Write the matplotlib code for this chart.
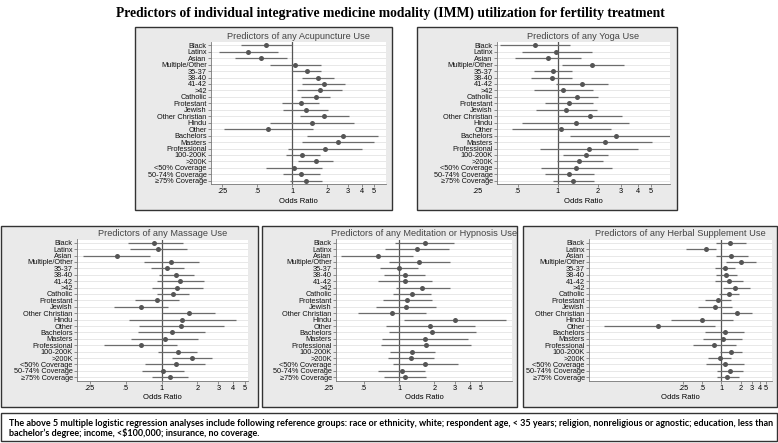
import matplotlib
matplotlib.use("Agg")
import matplotlib.pyplot as plt
from matplotlib.patches import Rectangle
import numpy as np

plt.rcParams['font.family'] = ['Liberation Sans', 'DejaVu Sans']

# row labels (same for every panel)
rows = ['Black', 'Latinx', 'Asian', 'Multiple/Other', '35-37', '38-40', '41-42', '>42',
        'Catholic', 'Protestant', 'Jewish', 'Other Christian', 'Hindu', 'Other',
        'Bachelors', 'Masters', 'Professional', '100-200K', '>200K',
        '<50% Coverage', '50-74% Coverage', '≥75% Coverage']

xticks = [0.25, 0.5, 1, 2, 3, 4, 5]
xticklabels = ['.25', '.5', '1', '2', '3', '4', '5']

# odds ratios and 95% CI
acu_or = [0.60, 0.42, 0.54, 1.05, 1.33, 1.67, 1.86, 1.72, 1.59, 1.18, 1.31, 1.89, 1.47, 0.62,
          2.74, 2.47, 1.91, 1.22, 1.59, 1.04, 1.20, 1.32]
acu_lo = [0.36, 0.235, 0.32, 0.64, 1.00, 1.22, 1.22, 1.10, 1.18, 0.82, 0.84, 1.17, 0.64, 0.26,
          1.35, 1.22, 0.91, 0.88, 1.13, 0.60, 0.83, 0.96]
acu_hi = [1.00, 0.76, 0.90, 1.75, 1.78, 2.28, 2.85, 2.68, 2.13, 1.70, 2.02, 3.08, 3.42, 1.51,
          5.50, 5.00, 3.97, 1.72, 2.22, 1.81, 1.73, 1.81]

yoga_or = [0.68, 0.98, 0.85, 1.82, 0.93, 0.90, 1.52, 1.10, 1.41, 1.22, 1.16, 1.75, 1.37, 1.06,
           2.75, 2.28, 1.72, 1.63, 1.46, 1.38, 1.22, 1.30]
yoga_lo = [0.37, 0.54, 0.48, 1.08, 0.67, 0.63, 0.97, 0.66, 1.01, 0.80, 0.69, 1.01, 0.54, 0.45,
           1.24, 1.01, 0.74, 1.10, 0.99, 0.75, 0.80, 0.92]
yoga_hi = [1.24, 1.80, 1.50, 3.15, 1.29, 1.29, 2.41, 1.83, 2.00, 1.86, 1.97, 3.03, 3.44, 2.52,
           7.00, 5.10, 4.05, 2.41, 2.18, 2.55, 1.87, 1.89]

mass_or = [0.87, 0.94, 0.42, 1.20, 1.12, 1.33, 1.43, 1.35, 1.24, 0.91, 0.67, 1.69, 1.48, 1.46,
           1.22, 1.07, 0.67, 1.38, 1.80, 1.32, 1.02, 1.18]
mass_lo = [0.52, 0.54, 0.22, 0.71, 0.82, 0.96, 0.91, 0.83, 0.91, 0.60, 0.40, 1.01, 0.53, 0.65,
           0.64, 0.56, 0.33, 0.94, 1.23, 0.73, 0.68, 0.84]
mass_hi = [1.51, 1.65, 0.80, 2.06, 1.54, 1.88, 2.27, 2.22, 1.71, 1.39, 1.14, 2.81, 4.20, 3.34,
           2.32, 2.04, 1.34, 2.00, 2.65, 2.33, 1.53, 1.67]

med_or = [1.67, 1.42, 0.66, 1.48, 1.00, 1.12, 1.12, 1.58, 1.28, 1.18, 1.15, 0.87, 3.01, 1.84,
          1.92, 1.65, 1.71, 1.30, 1.26, 1.67, 1.05, 1.13]
med_lo = [0.93, 0.76, 0.32, 0.82, 0.69, 0.75, 0.66, 0.94, 0.88, 0.73, 0.64, 0.45, 1.11, 0.78,
          0.82, 0.71, 0.70, 0.84, 0.81, 0.88, 0.66, 0.75]
med_hi = [2.97, 2.66, 1.32, 2.71, 1.45, 1.68, 1.93, 2.73, 1.89, 1.91, 2.06, 1.71, 8.20, 4.43,
          4.52, 3.87, 4.15, 2.01, 1.99, 3.17, 1.67, 1.69]

herb_or = [1.35, 0.56, 1.42, 2.00, 1.12, 1.19, 1.32, 1.65, 1.32, 0.89, 0.80, 1.73, 0.49, 0.10,
           1.12, 1.04, 0.77, 1.40, 0.94, 1.14, 1.37, 1.24]
herb_lo = [0.81, 0.27, 0.81, 1.17, 0.79, 0.81, 0.79, 1.04, 0.92, 0.55, 0.43, 1.01, 0.16, 0.0136,
           0.54, 0.51, 0.35, 0.95, 0.62, 0.57, 0.85, 0.84]
herb_hi = [2.43, 0.83, 2.58, 3.50, 1.61, 1.79, 2.20, 2.78, 1.90, 1.42, 1.49, 3.02, 1.51, 0.78,
           2.31, 2.15, 1.69, 2.10, 1.42, 2.29, 2.18, 1.86]

W, H = 778, 443
fig = plt.figure(figsize=(W / 100, H / 100), dpi=100)


def fig_rect(x0, y0, x1, y1):
    return [x0 / W, 1 - y1 / H, (x1 - x0) / W, (y1 - y0) / H]


def panel(box, area, xlim, title, ors, lo, hi):
    bx0, by0, bx1, by1 = box
    fig.patches.append(Rectangle((bx0 / W, 1 - by1 / H), (bx1 - bx0) / W, (by1 - by0) / H,
                                 transform=fig.transFigure, facecolor='#eaeaea',
                                 edgecolor='#333333', linewidth=1.0, zorder=-5))
    ax = fig.add_axes(fig_rect(*area))
    ax.set_zorder(2)
    ax.set_facecolor('white')
    y = np.arange(len(rows))
    for yy in y:
        ax.axhline(yy, color='#e4e4e4', lw=0.6, zorder=0)
    ax.axvline(1, color='#555555', lw=0.9, zorder=1)
    ax.hlines(y, lo, hi, color='#6c6c6c', lw=0.9, zorder=2)
    ax.plot(ors, y, 'o', color='#555555', ms=3.6, mec='none', zorder=3)
    ax.set_xscale('log')
    ax.set_xlim(*xlim)
    ax.set_ylim(len(rows) - 0.5, -0.5)
    ax.set_yticks(y)
    ax.set_yticklabels(rows, fontsize=5.3, color='#111111')
    inside = [t for t in xticks if xlim[0] <= t <= xlim[1]]
    ax.set_xticks(inside)
    ax.set_xticklabels([xticklabels[xticks.index(t)] for t in inside], fontsize=5.3)
    ax.xaxis.set_minor_locator(plt.NullLocator())
    # .25 label sits just left of the axis when the range starts above it
    for t in xticks:
        if t < xlim[0]:
            ax.annotate(xticklabels[xticks.index(t)], xy=(t, 0), xycoords=('data', 'axes fraction'),
                        xytext=(0, -3), textcoords='offset points', ha='center', va='top',
                        fontsize=5.3, annotation_clip=False)
    ax.tick_params(axis='both', length=2, width=0.5, color='#666666', pad=1)
    for s in ['top', 'right']:
        ax.spines[s].set_visible(False)
    for s in ['left', 'bottom']:
        ax.spines[s].set_color('#777777')
        ax.spines[s].set_linewidth(0.6)
    ax.set_xlabel('Odds Ratio', fontsize=5.5, labelpad=2)
    ax.set_title(title, fontsize=6.7, color='#444444', pad=2.5)
    return ax


panel((135, 27, 392, 210), (211, 42, 386, 184), (0.2, 6.4),
      'Predictors of any Acupuncture Use', acu_or, acu_lo, acu_hi)
panel((417, 27, 677, 210), (497, 42, 670, 184), (0.35, 7.0),
      'Predictors of any Yoga Use', yoga_or, yoga_lo, yoga_hi)
panel((1, 226, 258, 407), (77, 239.5, 248, 380.5), (0.196, 5.3),
      'Predictors of any Massage Use', mass_or, mass_lo, mass_hi)
panel((262, 226, 517, 407), (336, 239.5, 512, 380.5), (0.29, 9.2),
      'Predictors of any Meditation or Hypnosis Use', med_or, med_lo, med_hi)
panel((523, 226, 777, 407), (589, 239.5, 772, 380.5), (0.008, 6.3),
      'Predictors of any Herbal Supplement Use', herb_or, herb_lo, herb_hi)

fig.text(390 / W, 1 - 13 / H,
         'Predictors of individual integrative medicine modality (IMM) utilization for fertility treatment',
         ha='center', va='center', fontsize=9.8, fontweight='bold', family='Liberation Serif')

# footnote box
fig.patches.append(Rectangle((1 / W, 1 - 441 / H), 776 / W, 28 / H, transform=fig.transFigure,
                             facecolor='white', edgecolor='#333333', linewidth=1.0, zorder=-5))
fig.text(9 / W, 1 - 423 / H,
         'The above 5 multiple logistic regression analyses include following reference groups: race or ethnicity, '
         'white; respondent age, < 35 years; religion, nonreligious or agnostic; education, less than',
         ha='left', va='center', fontsize=6.45, fontweight='bold', family='Lato')
fig.text(9 / W, 1 - 433 / H,
         'bachelor\u2019s degree; income, <\\$100,000; insurance, no coverage.',
         ha='left', va='center', fontsize=6.45, fontweight='bold', family='Lato')

fig.savefig('out.png', dpi=100)
